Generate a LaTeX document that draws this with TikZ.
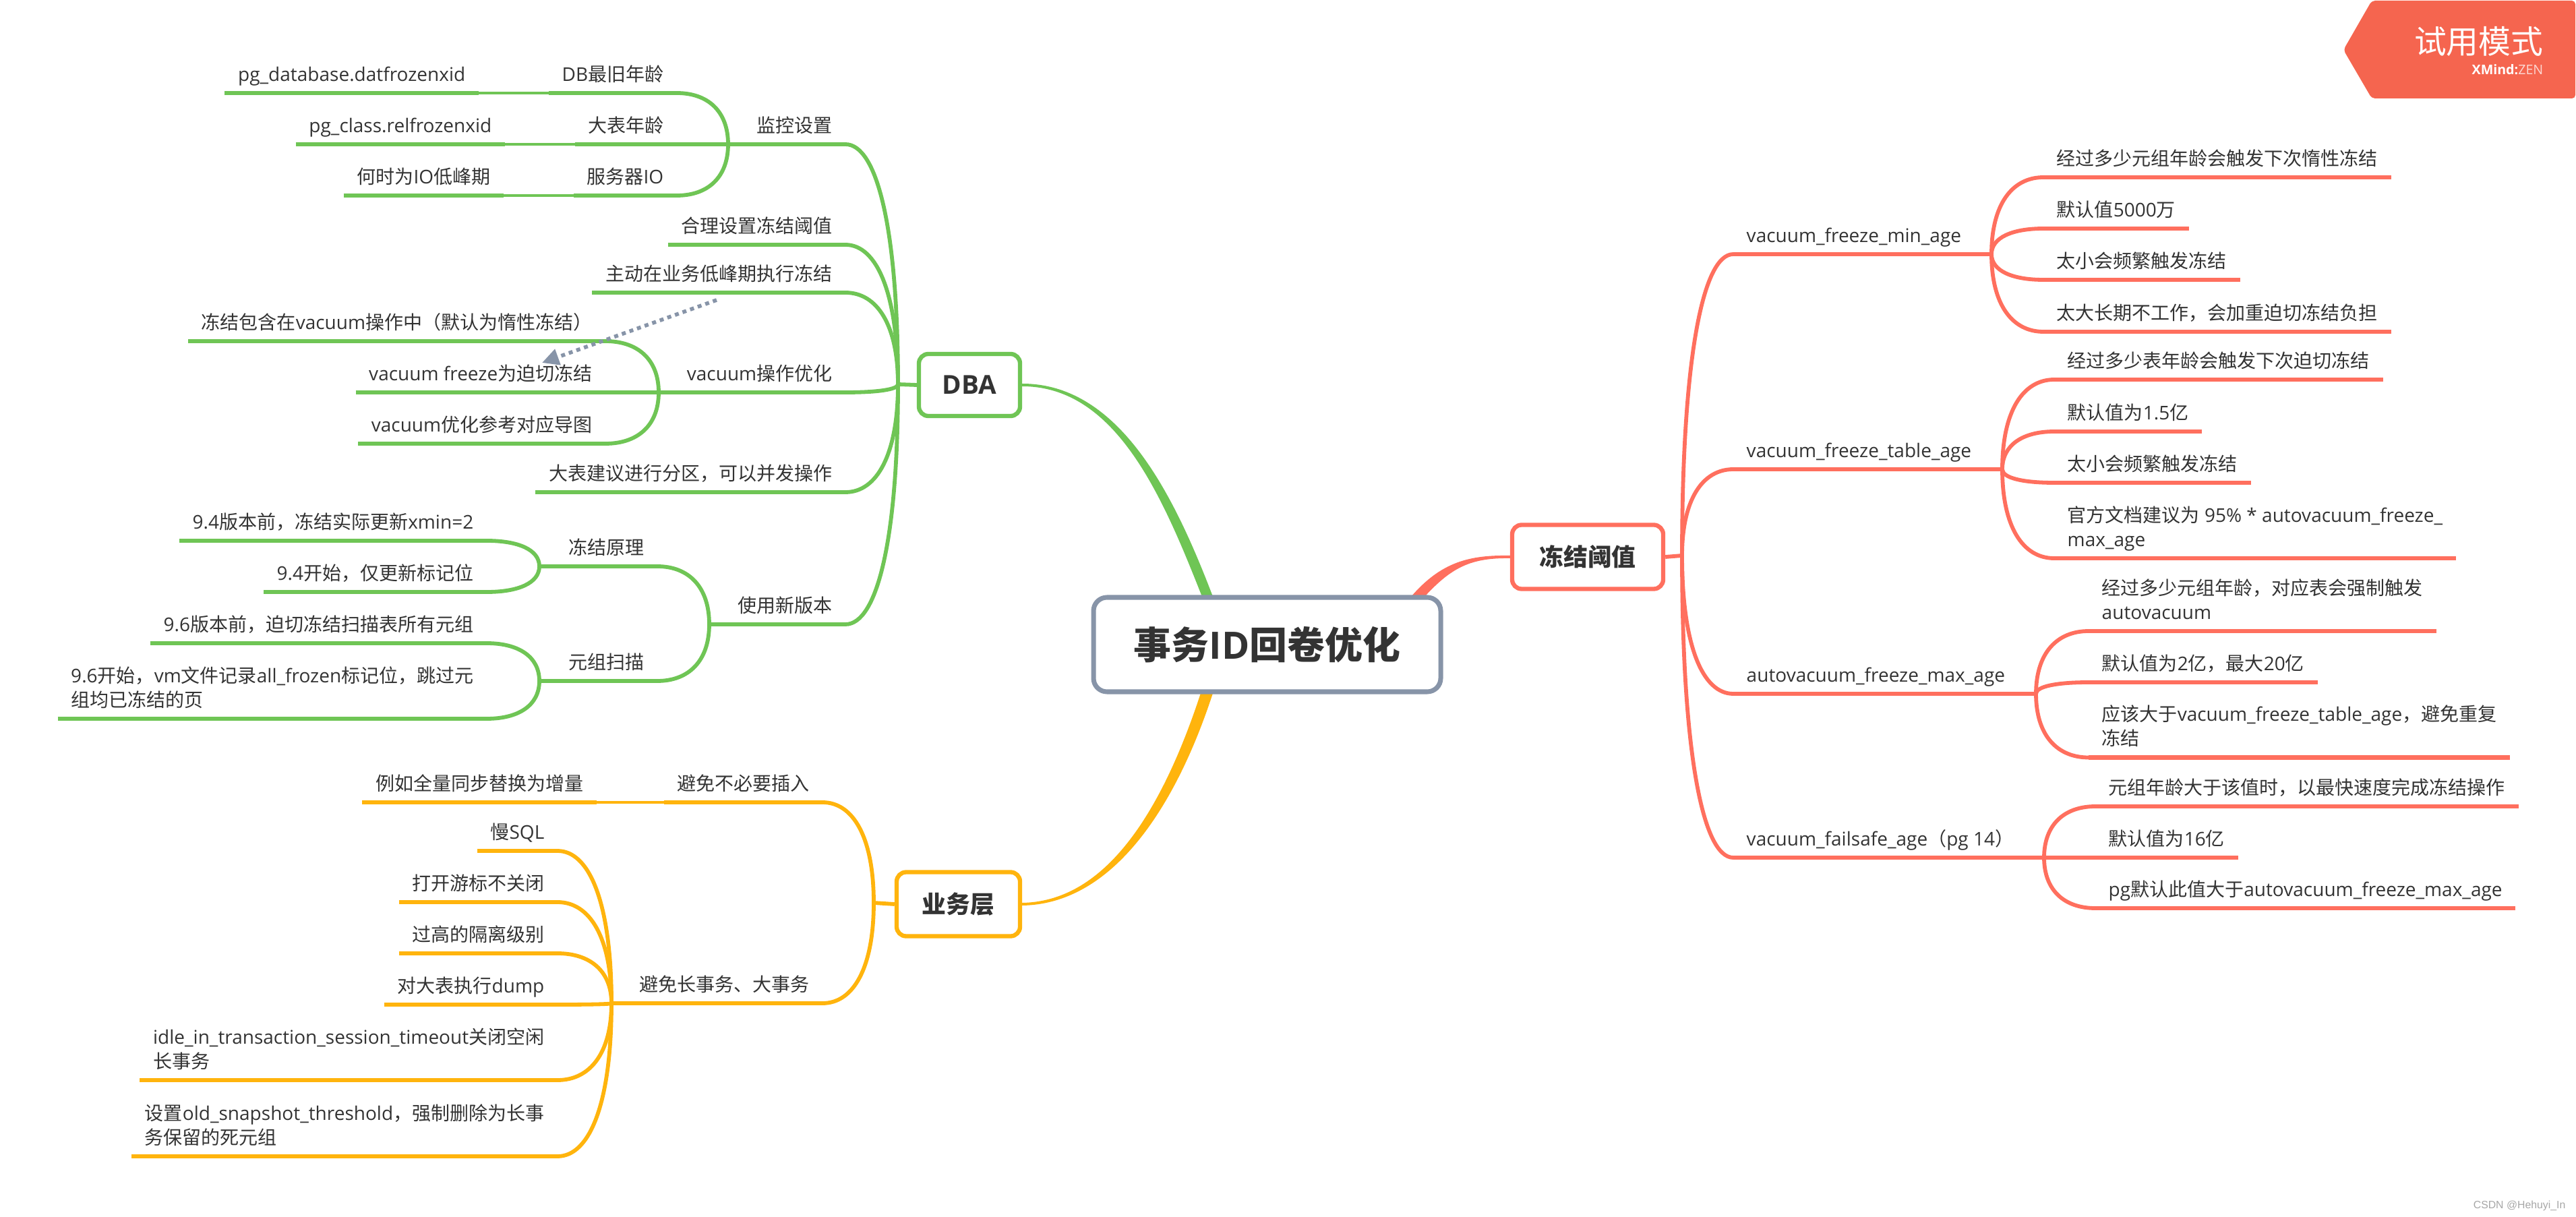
\documentclass[tikz,border=0pt]{standalone}
\usepackage{fontspec}
\setmainfont{Open Sans}
\newfontfamily\cjkfont{Noto Sans CJK SC}
\newfontfamily\markfont{Liberation Sans}
\newcommand{\zh}[1]{{\cjkfont #1}}
\usetikzlibrary{arrows.meta}
\usetikzlibrary{backgrounds}
\usetikzlibrary{calc}
\definecolor{grn}{HTML}{6FC555}
\definecolor{org}{HTML}{FFB40D}
\definecolor{rd}{HTML}{FF6F5E}
\definecolor{steel}{HTML}{8794A8}
\definecolor{tag}{HTML}{F5654F}
\definecolor{ink}{HTML}{333333}
\tikzset{
  topic/.style={font=\fontsize{7.97}{10.24}\selectfont, text=ink, inner xsep=.19cm, inner ysep=0,
    text height=.22cm, text depth=.17cm, align=left},
  under/.style={append after command={(\tikzlastnode.south west) edge[draw=#1, line width=1.8pt] (\tikzlastnode.south east)}},
  gleaf/.style={topic, anchor=south east, under=grn},
  oleaf/.style={topic, anchor=south east, under=org},
  rleaf/.style={topic, anchor=south west, under=rd},
  gline/.style={draw=grn, line width=1.65pt},
  oline/.style={draw=org, line width=1.65pt},
  rline/.style={draw=rd, line width=1.65pt},
  box/.style={draw=#1, fill=white, line width=1.8pt, rounded corners=.14cm, text=ink,
    font=\bfseries\fontsize{10.2}{12}\selectfont, inner sep=0},
  rel/.style={draw=steel, line width=1.6pt, dash pattern=on 1.7pt off 1.7pt,
    -{Triangle[length=.25cm, width=.24cm]}}
}
\newcommand{\twig}[3]{\draw[#1] (#2) .. controls ($(#2)!.65!(#2|-#3)$) and ($(#3)!.6!(#3-|#2)$) .. (#3);}
\begin{document}
\begin{tikzpicture}
    \useasboundingbox (0, 0) rectangle (38.21, -18.05);

    \node [draw=steel, fill=white, line width=2pt, rounded corners=.2cm, text=ink, minimum width=5.15cm,
      minimum height=1.4cm, inner sep=0, font=\bfseries\fontsize{15.9}{18}\selectfont] (cen) at (18.795, -9.56) {\zh{事务}ID\zh{回卷优化}};
    \node [box=grn, minimum width=1.5cm, minimum height=.92cm, font=\bfseries\fontsize{11}{12}\selectfont] (dba) at (14.38, -5.71) {DBA};
    \node [box=org, minimum width=1.83cm, minimum height=.95cm] (biz) at (14.215, -13.41) {\zh{业务层}};
    \node [box=rd, minimum width=2.24cm, minimum height=.95cm] (frz) at (23.55, -8.26) {\zh{冻结阈值}};

    \coordinate (dbaj) at (13.32, -5.70);
    \coordinate (bizj) at (12.96, -13.39);
    \coordinate (frzj) at (24.95, -8.24);

    \begin{scope}[on background layer]
      \fill [grn] (18.01, -8.90) .. controls (17.43, -7.37) and (16.62, -5.69) .. ($(dba.east)+(0, .02)$)
        -- ($(dba.east)+(0, -.02)$) .. controls (16.58, -5.73) and (17.27, -7.43) .. (17.85, -8.90) -- cycle;
      \fill [org] (17.83, -10.22) .. controls (17.30, -11.86) and (16.48, -13.37) .. ($(biz.east)+(0, .02)$)
        -- ($(biz.east)+(0, -.02)$) .. controls (16.52, -13.41) and (17.46, -11.94) .. (18.01, -10.22) -- cycle;
      \fill [rd] (20.93, -8.85) .. controls (21.38, -8.33) and (21.80, -8.23) .. ($(frz.west)+(0, .02)$)
        -- ($(frz.west)+(0, -.02)$) .. controls (21.80, -8.27) and (21.52, -8.43) .. (21.13, -8.85) -- cycle;
    \end{scope}

    \draw [gline] (dba.west) -- (dbaj);
    \draw [oline] (biz.west) -- (bizj);
    \draw [rline] (frz.east) -- (frzj);

    % green side
    \node [gleaf] (mon) at (12.54, -2.14) {\zh{监控设置}};
    \node [gleaf] (dbold) at (10.04, -1.38) {DB\zh{最旧年龄}};
    \node [gleaf] (pgdb) at (7.10, -1.38) {pg\_database.datfrozenxid};
    \node [gleaf] (tblage) at (10.04, -2.14) {\zh{大表年龄}};
    \node [gleaf] (pgcls) at (7.49, -2.14) {pg\_class.relfrozenxid};
    \node [gleaf] (srvio) at (10.04, -2.90) {\zh{服务器}IO};
    \node [gleaf] (lowio) at (7.47, -2.90) {\zh{何时为}IO\zh{低峰期}};
    \node [gleaf] (setthr) at (12.54, -3.63) {\zh{合理设置冻结阈值}};
    \node [gleaf] (active) at (12.54, -4.34) {\zh{主动在业务低峰期执行冻结}};
    \node [gleaf] (vop) at (12.54, -5.82) {vacuum\zh{操作优化}};
    \node [gleaf] (vlazy) at (8.98, -5.06) {\zh{冻结包含在}vacuum\zh{操作中（默认为惰性冻结）}};
    \node [gleaf] (vfrz) at (8.98, -5.82) {vacuum freeze\zh{为迫切冻结}};
    \node [gleaf] (vmap) at (8.98, -6.58) {vacuum\zh{优化参考对应导图}};
    \node [gleaf] (part) at (12.54, -7.30) {\zh{大表建议进行分区，可以并发操作}};
    \node [gleaf] (newver) at (12.54, -9.26) {\zh{使用新版本}};
    \node [gleaf] (prin) at (9.75, -8.40) {\zh{冻结原理}};
    \node [gleaf] (pre94) at (7.22, -8.02) {9.4\zh{版本前，冻结实际更新}xmin=2};
    \node [gleaf] (new94) at (7.22, -8.78) {9.4\zh{开始，仅更新标记位}};
    \node [gleaf] (scan) at (9.75, -10.10) {\zh{元组扫描}};
    \node [gleaf] (pre96) at (7.22, -9.54) {9.6\zh{版本前，迫切冻结扫描表所有元组}};
    \node [gleaf] (new96) at (7.22, -10.66) {9.6\zh{开始，}vm\zh{文件记录}all\_frozen\zh{标记位，跳过元}\\\zh{组均已冻结的页}};

    \coordinate (monj) at (10.80, -2.14);
    \coordinate (vopj) at (9.77, -5.82);
    \coordinate (newj) at (10.52, -9.26);
    \coordinate (prinj) at (8.00, -8.40);
    \coordinate (scanj) at (8.00, -10.10);

    \twig{gline}{dbaj}{mon.south east}
    \twig{gline}{dbaj}{setthr.south east}
    \twig{gline}{dbaj}{active.south east}
    \twig{gline}{dbaj}{vop.south east}
    \twig{gline}{dbaj}{part.south east}
    \twig{gline}{dbaj}{newver.south east}
    \draw [gline] (mon.south west) -- (monj);
    \draw [gline] (vop.south west) -- (vopj);
    \draw [gline] (newver.south west) -- (newj);
    \draw [gline] (prin.south west) -- (prinj);
    \draw [gline] (scan.south west) -- (scanj);
    \twig{gline}{monj}{dbold.south east}
    \twig{gline}{monj}{tblage.south east}
    \twig{gline}{monj}{srvio.south east}
    \draw [gline, line width=1pt] (dbold.south west) -- (pgdb.south east);
    \draw [gline, line width=1pt] (tblage.south west) -- (pgcls.south east);
    \draw [gline, line width=1pt] (srvio.south west) -- (lowio.south east);
    \twig{gline}{vopj}{vlazy.south east}
    \twig{gline}{vopj}{vfrz.south east}
    \twig{gline}{vopj}{vmap.south east}
    \twig{gline}{newj}{prin.south east}
    \twig{gline}{newj}{scan.south east}
    \twig{gline}{prinj}{pre94.south east}
    \twig{gline}{prinj}{new94.south east}
    \twig{gline}{scanj}{pre96.south east}
    \twig{gline}{scanj}{new96.south east}

    \coordinate (relfrom) at (10.63, -4.45);
    \coordinate (relto) at (8.04, -5.38);
    \draw [rel] (relfrom) -- (relto);

    % orange side
    \node [oleaf] (skip) at (12.20, -11.90) {\zh{避免不必要插入}};
    \node [oleaf] (incr) at (8.85, -11.90) {\zh{例如全量同步替换为增量}};
    \node [oleaf] (longtx) at (12.20, -14.88) {\zh{避免长事务、大事务}};
    \node [oleaf] (slow) at (8.27, -12.62) {\zh{慢}SQL};
    \node [oleaf] (cursor) at (8.27, -13.38) {\zh{打开游标不关闭}};
    \node [oleaf] (iso) at (8.27, -14.14) {\zh{过高的隔离级别}};
    \node [oleaf] (dump) at (8.27, -14.90) {\zh{对大表执行}dump};
    \node [oleaf] (idle) at (8.27, -16.02) {idle\_in\_transaction\_session\_timeout\zh{关闭空闲}\\\zh{长事务}};
    \node [oleaf] (snap) at (8.27, -17.15) {\zh{设置}old\_snapshot\_threshold\zh{，强制删除为长事}\\\zh{务保留的死元组}};

    \coordinate (longj) at (9.07, -14.88);

    \twig{oline}{bizj}{skip.south east}
    \twig{oline}{bizj}{longtx.south east}
    \draw [oline, line width=1pt] (skip.south west) -- (incr.south east);
    \draw [oline] (longtx.south west) -- (longj);
    \twig{oline}{longj}{slow.south east}
    \twig{oline}{longj}{cursor.south east}
    \twig{oline}{longj}{iso.south east}
    \twig{oline}{longj}{dump.south east}
    \twig{oline}{longj}{idle.south east}
    \twig{oline}{longj}{snap.south east}

    % red side
    \node [rleaf] (minage) at (25.71, -3.77) {vacuum\_freeze\_min\_age};
    \node [rleaf] (m1) at (30.31, -2.63) {\zh{经过多少元组年龄会触发下次惰性冻结}};
    \node [rleaf] (m2) at (30.31, -3.39) {\zh{默认值}5000\zh{万}};
    \node [rleaf] (m3) at (30.31, -4.15) {\zh{太小会频繁触发冻结}};
    \node [rleaf] (m4) at (30.31, -4.92) {\zh{太大长期不工作，会加重迫切冻结负担}};
    \node [rleaf] (tabage) at (25.71, -6.96) {vacuum\_freeze\_table\_age};
    \node [rleaf] (t1) at (30.47, -5.63) {\zh{经过多少表年龄会触发下次迫切冻结}};
    \node [rleaf] (t2) at (30.47, -6.40) {\zh{默认值为}1.5\zh{亿}};
    \node [rleaf] (t3) at (30.47, -7.16) {\zh{太小会频繁触发冻结}};
    \node [rleaf] (t4) at (30.47, -8.28) {\zh{官方文档建议为} 95\% * autovacuum\_freeze\_\\max\_age};
    \node [rleaf] (maxage) at (25.71, -10.29) {autovacuum\_freeze\_max\_age};
    \node [rleaf] (a1) at (30.98, -9.36) {\zh{经过多少元组年龄，对应表会强制触发}\\autovacuum};
    \node [rleaf] (a2) at (30.98, -10.12) {\zh{默认值为}2\zh{亿，最大}20\zh{亿}};
    \node [rleaf] (a3) at (30.98, -11.235) {\zh{应该大于}vacuum\_freeze\_table\_age\zh{，避免重复}\\\zh{冻结}};
    \node [rleaf] (safe) at (25.71, -12.72) {vacuum\_failsafe\_age\zh{（}pg 14\zh{）}};
    \node [rleaf] (s1) at (31.08, -11.96) {\zh{元组年龄大于该值时，以最快速度完成冻结操作}};
    \node [rleaf] (s2) at (31.08, -12.72) {\zh{默认值为}16\zh{亿}};
    \node [rleaf] (s3) at (31.08, -13.47) {pg\zh{默认此值大于}autovacuum\_freeze\_max\_age};

    \coordinate (minj) at (29.54, -3.77);
    \coordinate (tabj) at (29.70, -6.96);
    \coordinate (maxj) at (30.20, -10.29);
    \coordinate (safej) at (30.32, -12.72);

    \twig{rline}{frzj}{minage.south west}
    \twig{rline}{frzj}{tabage.south west}
    \twig{rline}{frzj}{maxage.south west}
    \twig{rline}{frzj}{safe.south west}
    \draw [rline] (minage.south east) -- (minj);
    \draw [rline] (tabage.south east) -- (tabj);
    \draw [rline] (maxage.south east) -- (maxj);
    \draw [rline] (safe.south east) -- (safej);
    \twig{rline}{minj}{m1.south west}
    \twig{rline}{minj}{m2.south west}
    \twig{rline}{minj}{m3.south west}
    \twig{rline}{minj}{m4.south west}
    \twig{rline}{tabj}{t1.south west}
    \twig{rline}{tabj}{t2.south west}
    \twig{rline}{tabj}{t3.south west}
    \twig{rline}{tabj}{t4.south west}
    \twig{rline}{maxj}{a1.south west}
    \twig{rline}{maxj}{a2.south west}
    \twig{rline}{maxj}{a3.south west}
    \twig{rline}{safej}{s1.south west}
    \twig{rline}{safej}{s2.south west}
    \twig{rline}{safej}{s3.south west}

    % trial tag
    \fill [tag, rounded corners=.05cm] (34.76, -.74) -- (35.18, -.01) -- (38.20, -.01) -- (38.20, -1.46) -- (35.18, -1.46) -- cycle;
    \node [anchor=east, inner sep=0, text=white, font=\fontsize{13.6}{15}\selectfont] (trial) at (37.73, -.61) {\cjkfont 试用模式};
    \node [anchor=east, inner sep=0, text=white, font=\fontsize{5.6}{7}\selectfont] (brand) at (37.73, -1.03) {\textbf{XMind:}\textcolor{white!75!tag}{ZEN}};
    \node [anchor=east, inner sep=0, text=black!35, font=\markfont\fontsize{4.5}{5}\selectfont] (wmark) at (38.06, -17.88) {CSDN @Hehuyi\_In};
  \end{tikzpicture}
\end{document}
